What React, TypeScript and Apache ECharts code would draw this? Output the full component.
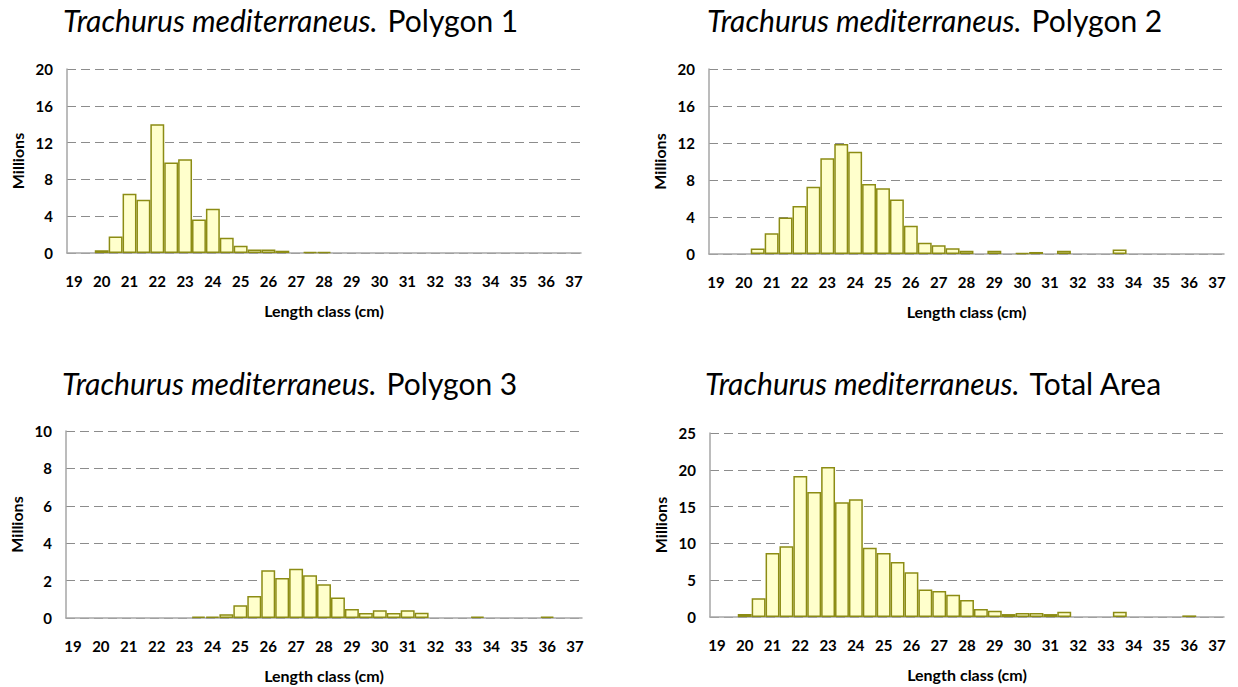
import React, { useEffect, useRef } from 'react';
import * as echarts from 'echarts';

// Half-centimetre length classes, 19 cm to 37 cm
const lengthClasses = [
  '19', '19.5', '20', '20.5', '21', '21.5', '22', '22.5', '23', '23.5',
  '24', '24.5', '25', '25.5', '26', '26.5', '27', '27.5', '28', '28.5',
  '29', '29.5', '30', '30.5', '31', '31.5', '32', '32.5', '33', '33.5',
  '34', '34.5', '35', '35.5', '36', '36.5', '37',
];

// Abundance per length class, millions of individuals
const polygon1 = [
  0, 0, 0.3, 1.8, 6.45, 5.8, 14.0, 9.85, 10.2, 3.65,
  4.8, 1.65, 0.8, 0.38, 0.38, 0.25, 0, 0.1, 0.1, 0,
  0, 0, 0, 0, 0, 0, 0, 0, 0, 0,
  0, 0, 0, 0, 0, 0, 0,
];

const polygon2 = [
  0, 0, 0, 0.6, 2.23, 3.95, 5.18, 7.27, 10.35, 11.9,
  11.05, 7.58, 7.12, 5.88, 3.06, 1.22, 0.95, 0.62, 0.36, 0,
  0.36, 0, 0.1, 0.22, 0, 0.36, 0, 0, 0, 0.5,
  0, 0, 0, 0, 0, 0, 0,
];

const polygon3 = [
  0, 0, 0, 0, 0, 0, 0, 0, 0, 0.07,
  0.07, 0.2, 0.68, 1.18, 2.55, 2.14, 2.63, 2.29, 1.8, 1.1,
  0.48, 0.27, 0.41, 0.27, 0.41, 0.28, 0, 0, 0, 0.07,
  0, 0, 0, 0, 0.07, 0, 0,
];

const totalArea = [
  0, 0, 0.41, 2.54, 8.7, 9.6, 19.16, 16.98, 20.38, 15.58,
  15.99, 9.42, 8.7, 7.47, 6.07, 3.72, 3.54, 3.04, 2.31, 1.09,
  0.86, 0.4, 0.54, 0.54, 0.4, 0.72, 0, 0, 0, 0.72,
  0, 0, 0, 0, 0.22, 0, 0,
];

const species = 'Trachurus mediterraneus.';
const areaNames = ['Polygon 1', 'Polygon 2', 'Polygon 3', 'Total Area'];
const areaValues = [polygon1, polygon2, polygon3, totalArea];
const yMaxima = [20, 20, 10, 25];
const yIntervals = [4, 4, 2, 5];

// Panel placement on the page
const gridBoxes = [
  { left: 67, top: 69, width: 514, height: 184 },
  { left: 709, top: 69, width: 515, height: 185 },
  { left: 66, top: 431, width: 516, height: 187 },
  { left: 710, top: 433, width: 514, height: 184 },
];
const titleBoxes = [
  { left: 63, top: 2 },
  { left: 707, top: 2 },
  { left: 62, top: 365 },
  { left: 705, top: 365 },
];

const FONT = 'Lato, "Noto Sans", sans-serif';
const BAR_FILL = '#FFFFCC';
const BAR_EDGE = '#8C8C14';
const AXIS_GREY = '#A6A6A6';

export default function App() {
  const ref = useRef<HTMLDivElement>(null);

  useEffect(() => {
    if (!ref.current) return;
    const chart = echarts.init(ref.current, undefined, { renderer: 'svg' });

    const tickStyle = {
      fontFamily: FONT,
      fontWeight: 'bold' as const,
      fontSize: 15,
      color: '#000',
    };
    const nameStyle = { ...tickStyle, fontSize: 16 };

    const option = {
      animation: false,
      backgroundColor: '#fff',
      title: areaNames.map((name, i) => ({
        left: titleBoxes[i].left,
        top: titleBoxes[i].top,
        padding: 0,
        text: `{sp|${species}}  {ar|${name}}`,
        textStyle: {
          fontWeight: 'normal',
          rich: {
            sp: { fontFamily: FONT, fontStyle: 'italic', fontWeight: 'normal', fontSize: 30, color: '#000', lineHeight: 36 },
            ar: { fontFamily: FONT, fontStyle: 'normal', fontWeight: 'normal', fontSize: 30, color: '#000', lineHeight: 36 },
          },
        },
      })),
      grid: gridBoxes.map((g) => ({ ...g, containLabel: false })),
      xAxis: gridBoxes.map((_, i) => ({
        type: 'category',
        gridIndex: i,
        data: lengthClasses,
        boundaryGap: true,
        axisTick: { show: false },
        axisLine: { lineStyle: { color: AXIS_GREY, width: 1.5 } },
        axisLabel: { ...tickStyle, interval: 1, margin: 20 },
        name: 'Length class (cm)',
        nameLocation: 'middle',
        nameGap: 49,
        nameTextStyle: nameStyle,
      })),
      yAxis: gridBoxes.map((_, i) => ({
        type: 'value',
        gridIndex: i,
        min: 0,
        max: yMaxima[i],
        interval: yIntervals[i],
        axisLine: { show: true, lineStyle: { color: AXIS_GREY, width: 1.5 } },
        axisTick: { show: false },
        axisLabel: { ...tickStyle, margin: 14 },
        splitLine: {
          show: true,
          lineStyle: { color: '#8C8C8C', width: 1, type: [9, 5] },
        },
        name: 'Millions',
        nameLocation: 'middle',
        nameGap: 42,
        nameRotate: 90,
        nameTextStyle: nameStyle,
      })),
      series: areaValues.map((values, i) => ({
        type: 'bar',
        xAxisIndex: i,
        yAxisIndex: i,
        barCategoryGap: '0%',
        data: values.map((v) => (v > 0 ? v : '-')),
        itemStyle: { color: BAR_FILL, borderColor: BAR_EDGE, borderWidth: 1.5 },
        emphasis: { disabled: true },
      })),
    };

    chart.setOption(option as any);
    return () => chart.dispose();
  }, []);

  return (
    <div
      ref={ref}
      style={{ position: 'absolute', left: 0, top: 0, width: 1238, height: 687, background: '#fff' }}
    />
  );
}
